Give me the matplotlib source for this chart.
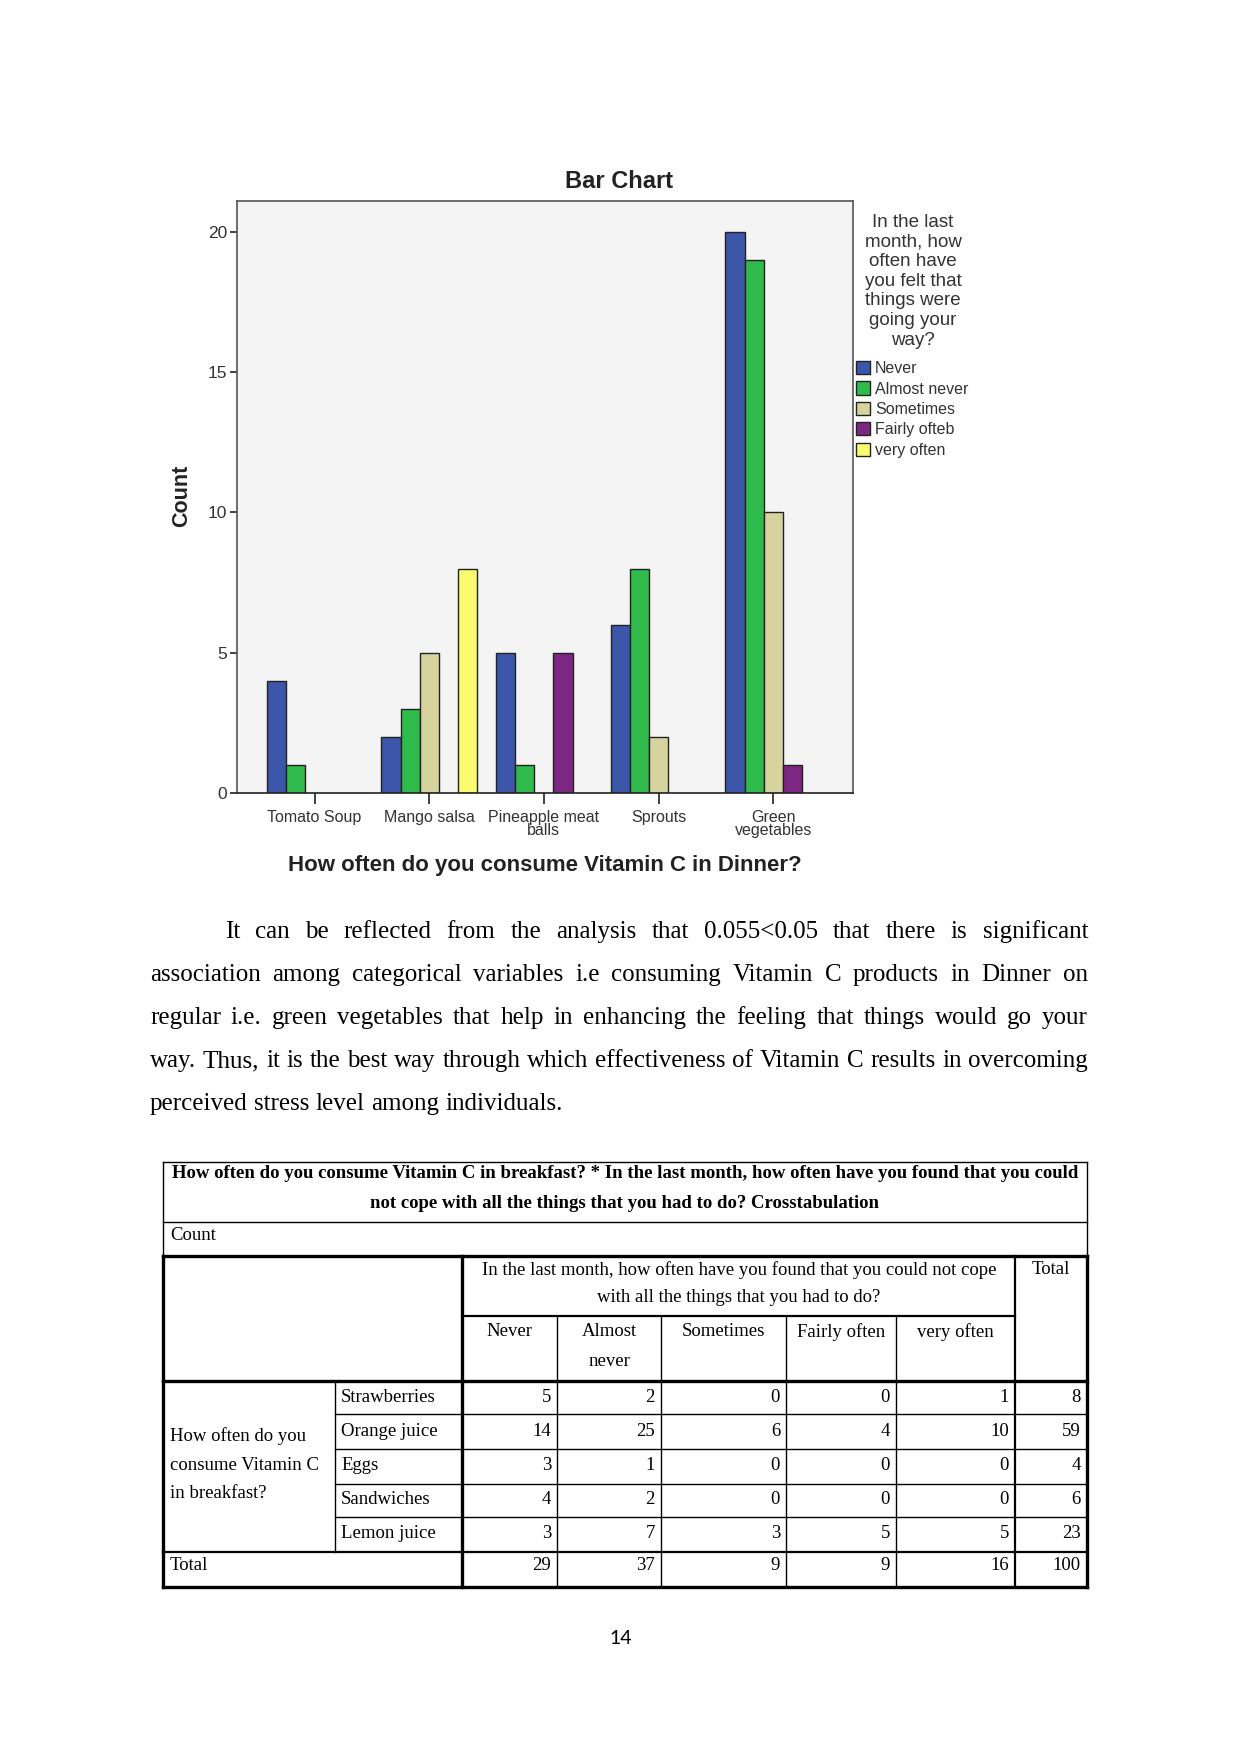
import numpy as np
import matplotlib
matplotlib.use("Agg")
import matplotlib.pyplot as plt
from matplotlib.patches import Patch

W, H = 1241, 1754

# chart data
dishes = ["Tomato Soup", "Mango salsa", "Pineapple meat\nballs", "Sprouts", "Green\nvegetables"]
answers = ["Never", "Almost never", "Sometimes", "Fairly ofteb", "very often"]
never = [4, 2, 5, 6, 20]
almost_never = [1, 3, 1, 8, 19]
sometimes = [0, 5, 0, 2, 10]
fairly_often = [0, 0, 5, 0, 1]
very_often = [0, 8, 0, 0, 0]
colors = ["#3c57aa", "#2fba4b", "#d6d39e", "#7c2781", "#fbfb70"]

# table data
breakfast = ["Strawberries", "Orange juice", "Eggs", "Sandwiches", "Lemon juice"]
tab_cols = [["Never"], ["Almost", "never"], ["Sometimes"], ["Fairly often"], ["very often"]]
tab_never = [5, 14, 3, 4, 3]
tab_almost = [2, 25, 1, 2, 7]
tab_some = [0, 6, 0, 0, 3]
tab_fairly = [0, 4, 0, 0, 5]
tab_very = [1, 10, 0, 0, 5]
tab_total = [8, 59, 4, 6, 23]
col_totals = [29, 37, 9, 9, 16, 100]

paragraph = [
    "It can be reflected from the analysis that 0.055<0.05 that there is significant",
    "association among categorical variables i.e consuming Vitamin C products in Dinner on",
    "regular i.e. green vegetables that help in enhancing the feeling that things would go your",
    "way. Thus, it is the best way through which effectiveness of Vitamin C results in overcoming",
    "perceived stress level among individuals.",
]

sans = ["Liberation Sans", "DejaVu Sans"]
serif = ["Liberation Serif", "DejaVu Serif"]

fig = plt.figure(figsize=(W / 100, H / 100), dpi=100)

# page overlay in pixel coordinates
pg = fig.add_axes([0, 0, 1, 1])
pg.set_xlim(0, W)
pg.set_ylim(H, 0)
pg.axis("off")

# ---- bar chart
ax = fig.add_axes([237 / W, 1 - 793 / H, (853 - 237) / W, (793 - 201) / H])
ax.set_facecolor("#f4f4f4")
series = [never, almost_never, sometimes, fairly_often, very_often]
x = np.arange(len(dishes))
bw = 0.1667
for j, vals in enumerate(series):
    bars = ax.bar(x + (j - 2) * bw, vals, width=bw, color=colors[j],
                  edgecolor="#222222", linewidth=1.0)
    for b, v in zip(bars, vals):
        if v == 0:
            b.set_visible(False)

ax.set_xlim(-0.676, 4.696)
ax.set_ylim(0, 21.1)
ax.set_yticks([0, 5, 10, 15, 20])
ax.set_xticks(x)
ax.set_xticklabels(dishes, linespacing=0.85)
for lab in ax.get_xticklabels():
    lab.set_family(sans)
    lab.set_fontsize(11.5)
    lab.set_color("#333333")
for lab in ax.get_yticklabels():
    lab.set_family(sans)
    lab.set_fontsize(12.5)
    lab.set_color("#333333")
ax.tick_params(axis="x", length=8, width=1.3, pad=4, color="#333333")
ax.tick_params(axis="y", length=5, width=1.3, pad=2, color="#333333")
for s in ax.spines.values():
    s.set_color("#555555")
    s.set_linewidth(1.2)
ax.spines["bottom"].set_color("#222222")

fig.text(619 / W, 1 - 181 / H, "Bar Chart", fontsize=17, fontweight="bold",
         family=sans, ha="center", va="center", color="#222222")
fig.text(182 / W, 1 - 496 / H, "Count", fontsize=15.5, fontweight="bold",
         family=sans, rotation=90, ha="center", va="center", color="#222222")
fig.text(545 / W, 1 - 865 / H, "How often do you consume Vitamin C in Dinner?",
         fontsize=16, fontweight="bold", family=sans, ha="center", va="center",
         color="#222222")
fig.text(913 / W, 1 - 214 / H,
         "In the last\nmonth, how\noften have\nyou felt that\nthings were\ngoing your\nway?",
         fontsize=13.5, family=sans, ha="center", va="top", linespacing=1.2,
         multialignment="center", color="#333333")
handles = [Patch(facecolor=c, edgecolor="#222222", linewidth=1.0) for c in colors]
leg = ax.legend(handles, answers, loc="upper left", bbox_to_anchor=(856 / W, 1 - 361 / H),
                bbox_transform=fig.transFigure, frameon=False, borderpad=0,
                borderaxespad=0, handlelength=0.9, handleheight=0.9,
                handletextpad=0.28, labelspacing=0.33,
                prop={"family": sans, "size": 11.5})
for t in leg.get_texts():
    t.set_color("#333333")

# ---- paragraph, justified
renderer = fig.canvas.get_renderer()
line_y = [932, 975, 1018, 1061, 1104]
for i, line in enumerate(paragraph):
    words = line.split()
    x0 = 225 if i == 0 else 150
    ts = [pg.text(0, line_y[i], w_, fontsize=18, family=serif, ha="left", va="center")
          for w_ in words]
    widths = [t.get_window_extent(renderer).width for t in ts]
    if i == len(paragraph) - 1:
        gap = 6.3
    else:
        gap = (1088 - x0 - sum(widths)) / (len(words) - 1)
    xx = x0
    for t, wd in zip(ts, widths):
        t.set_x(xx)
        xx += wd + gap

# ---- crosstab table
thin, mid, thick = 1.0, 1.6, 2.4


def hline(y, xa, xb, lw):
    pg.plot([xa, xb], [y, y], color="black", lw=lw, solid_capstyle="projecting")


def vline(xv, ya, yb, lw):
    pg.plot([xv, xv], [ya, yb], color="black", lw=lw, solid_capstyle="projecting")


L, R = 163, 1087
# title box and Count row
hline(1162, L, R, thin)
hline(1222, L, R, thin)
vline(L, 1162, 1256, thin)
vline(R, 1162, 1256, thin)
# main block
hline(1256, L, R, thick)
hline(1587, L, R, thick)
vline(L, 1256, 1587, thick)
vline(R, 1256, 1587, thick)
vline(462, 1256, 1587, thick)
vline(1015, 1256, 1587, mid)
hline(1381, L, R, thick)
hline(1316, 462, 1015, mid)
col_edges = [462, 557, 661, 786, 896, 1015, 1087]
for cx in col_edges[1:5]:
    vline(cx, 1316, 1587, thin)
row_edges = [1381, 1414, 1449, 1484, 1517, 1552]
for ry in row_edges[1:5]:
    hline(ry, 335, R, thin)
hline(1552, L, R, mid)
vline(335, 1381, 1552, thin)

tf = 13.5
pg.text(625, 1174, "How often do you consume Vitamin C in breakfast? * In the last month, how often have you found that you could",
        fontsize=tf, fontweight="bold", family=serif, ha="center", va="center")
pg.text(625, 1203, "not cope with all the things that you had to do? Crosstabulation",
        fontsize=tf, fontweight="bold", family=serif, ha="center", va="center")
pg.text(170, 1235, "Count", fontsize=tf, family=serif, ha="left", va="center")
pg.text(739, 1270, "In the last month, how often have you found that you could not cope",
        fontsize=tf, family=serif, ha="center", va="center")
pg.text(739, 1298, "with all the things that you had to do?",
        fontsize=tf, family=serif, ha="center", va="center")
pg.text(1051, 1270, "Total", fontsize=tf, family=serif, ha="center", va="center")
for k, name in enumerate(tab_cols):
    cx = (col_edges[k] + col_edges[k + 1]) / 2
    for m, part in enumerate(name):
        pg.text(cx, 1332 + 29 * m, part, fontsize=tf, family=serif, ha="center",
                va="center")
pg.text(170, 1436, "How often do you", fontsize=tf, family=serif, ha="left", va="center")
pg.text(170, 1465, "consume Vitamin C", fontsize=tf, family=serif, ha="left", va="center")
pg.text(170, 1494, "in breakfast?", fontsize=tf, family=serif, ha="left", va="center")

row_y = [1397, 1431, 1465, 1499, 1533]
table_cols = [tab_never, tab_almost, tab_some, tab_fairly, tab_very, tab_total]
for r, name in enumerate(breakfast):
    pg.text(341, row_y[r], name, fontsize=tf, family=serif, ha="left", va="center")
    for k, col in enumerate(table_cols):
        pg.text(col_edges[k + 1] - 6, row_y[r], str(col[r]), fontsize=tf,
                family=serif, ha="right", va="center")
pg.text(170, 1566, "Total", fontsize=tf, family=serif, ha="left", va="center")
for k, v in enumerate(col_totals):
    pg.text(col_edges[k + 1] - 6, 1566, str(v), fontsize=tf, family=serif,
            ha="right", va="center")

pg.text(621, 1639, "14", fontsize=14, family=["Lato", "DejaVu Sans"], ha="center",
        va="center")

fig.savefig("out.png", dpi=100)
